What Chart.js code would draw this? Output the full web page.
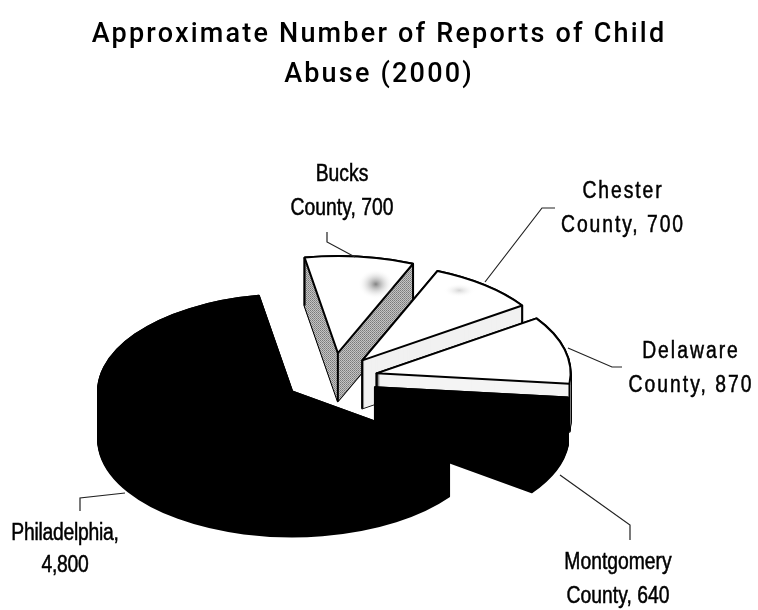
<!DOCTYPE html>
<html><head><meta charset="utf-8">
<style>html,body{margin:0;padding:0;background:#fff}canvas{display:block}</style>
<script src="https://cdn.jsdelivr.net/npm/chart.js@4"></script>
</head><body><canvas id="c" width="758" height="610"></canvas>
<script>
const categories = ["Philadelphia", "Bucks County", "Chester County", "Delaware County", "Montgomery County"];
const values = [4800, 700, 700, 870, 640];
const topColors = ["#000000", "#ffffff", "#ffffff", "#ffffff", "#000000"];
const explode = [47, 52, 48, 46, 46];
const titleLines = ["Approximate Number of Reports of Child", "Abuse (2000)"];
const labelLines = [["Philadelphia,", "4,800"], ["Bucks", "County, 700"], ["Chester", "County, 700"], ["Delaware", "County, 870"], ["Montgomery", "County, 640"]];

// presentation constants
const PIE = {cx: 332, cy: 379, r: 194, squash: 0.5, depth: 48};
const drawOrder = [1, 2, 3, 0, 4];
const labelPos = [[65, 534, 566, -0.3], [342, 175, 209, 0], [623, 192, 226, 2.3], [691, 352, 386, 2.4], [618, 563, 597, 0]];
const leaders = [
  [[125,493],[80,498],[80,511]],
  [[327,232],[327,242],[355,257]],
  [[555,208],[542,208],[485,282]],
  [[622,367],[612,367],[568,348]],
  [[560,475],[630,525],[630,540]]
];
const LABEL_FONT = "23px 'Liberation Sans'";
const LABEL_NARROW = 0.84;

function ditherPattern(ctx){
  const p = document.createElement('canvas'); p.width = p.height = 2;
  const g = p.getContext('2d');
  g.fillStyle = '#c4c4c4'; g.fillRect(0,0,2,2);
  g.fillStyle = '#7a7a7a'; g.fillRect(0,0,1,1);
  g.fillStyle = '#8f8f8f'; g.fillRect(1,1,1,1);
  return ctx.createPattern(p, 'repeat');
}
function wedge(ctx, g, dy){
  ctx.beginPath();
  ctx.moveTo(g.x, g.y + dy);
  ctx.ellipse(g.x, g.y + dy, g.r, g.r * PIE.squash, 0, g.a0, g.a1);
  ctx.closePath();
}
function geom(arc){
  const p = arc.getProps(['startAngle','endAngle','outerRadius']);
  const mid = (p.startAngle + p.endAngle) / 2, off = arc.options.offset || 0;
  return {
    x: PIE.cx + Math.cos(mid) * off,
    y: PIE.cy + Math.sin(mid) * off * PIE.squash,
    r: p.outerRadius, a0: p.startAngle, a1: p.endAngle
  };
}
function blob(ctx, x, y, rx, ry, col){
  ctx.save();
  ctx.translate(x, y); ctx.scale(rx, ry);
  const g = ctx.createRadialGradient(0,0,0,0,0,1);
  g.addColorStop(0, col); g.addColorStop(1, 'rgba(255,255,255,0)');
  ctx.fillStyle = g;
  ctx.beginPath(); ctx.arc(0,0,1,0,Math.PI*2); ctx.fill();
  ctx.restore();
}
const pie3d = {
  id: 'pie3d',
  beforeDraw(chart){
    chart.ctx.letterSpacing = '2.2px';
  },
  beforeDatasetDraw(chart){
    const ctx = chart.ctx, arcs = chart.getDatasetMeta(0).data;
    const dither = ditherPattern(ctx);
    const sideColors = ["#000000", dither, "#f1f1f1", "#f4f4f4", "#000000"];
    ctx.save();
    ctx.lineJoin = 'round';
    drawOrder.forEach(i => {
      const g = geom(arcs[i]);
      ctx.fillStyle = '#000'; ctx.strokeStyle = '#000'; ctx.lineWidth = 2;
      for (let d = PIE.depth; d >= 0; d -= 1){ wedge(ctx, g, d); ctx.fill(); ctx.stroke(); }
      ctx.fillStyle = sideColors[i];
      for (let d = PIE.depth; d >= 0; d -= 1){ wedge(ctx, g, d); ctx.fill(); }
      // edges of the cut faces
      ctx.beginPath();
      [[g.x, g.y], [g.x + Math.cos(g.a0)*g.r, g.y + Math.sin(g.a0)*g.r*PIE.squash],
       [g.x + Math.cos(g.a1)*g.r, g.y + Math.sin(g.a1)*g.r*PIE.squash]].forEach(p => {
        ctx.moveTo(p[0], p[1]); ctx.lineTo(p[0], p[1] + PIE.depth);
      });
      ctx.stroke();
      wedge(ctx, g, 0);
      ctx.fillStyle = arcs[i].options.backgroundColor;
      ctx.fill(); ctx.stroke();
      if (i === 1) blob(ctx, g.x + 38, g.y - 69, 18, 15, 'rgba(110,110,110,0.85)');
      if (i === 2) blob(ctx, g.x + 97, g.y - 70, 16, 7, 'rgba(170,170,170,0.5)');
    });
    ctx.restore();
    return false;
  },
  afterDraw(chart){
    const ctx = chart.ctx;
    ctx.save();
    ctx.strokeStyle = '#222'; ctx.lineWidth = 1.2;
    leaders.forEach(l => {
      ctx.beginPath();
      l.forEach((p, k) => k ? ctx.lineTo(p[0], p[1]) : ctx.moveTo(p[0], p[1]));
      ctx.stroke();
    });
    ctx.fillStyle = '#000'; ctx.strokeStyle = '#000'; ctx.lineWidth = 0.5; ctx.font = LABEL_FONT;
    ctx.textAlign = 'center'; ctx.textBaseline = 'middle';
    labelLines.forEach((lines, i) => {
      const [x, y1, y2, sp] = labelPos[i];
      ctx.letterSpacing = sp + 'px';
      [y1, y2].forEach((y, k) => {
        ctx.save();
        ctx.translate(x, y); ctx.scale(LABEL_NARROW, 1);
        ctx.fillText(lines[k], 0, 0);
        ctx.strokeText(lines[k], 0, 0);
        ctx.restore();
      });
    });
    ctx.restore();
  }
};
new Chart(document.getElementById('c'), {
  type: 'pie',
  data: {labels: categories, datasets: [{data: values, backgroundColor: topColors, offset: explode, radius: PIE.r, borderWidth: 0}]},
  options: {
    responsive: false, animation: false, rotation: 126,
    layout: {padding: 0},
    plugins: {
      legend: {display: false}, tooltip: {enabled: false},
      title: {display: true, text: titleLines, color: '#000', padding: {top: 15, bottom: 10},
        font: {family: "Roboto", size: 27, weight: '500', lineHeight: 1.48}}
    }
  },
  plugins: [pie3d]
});
</script></body></html>
